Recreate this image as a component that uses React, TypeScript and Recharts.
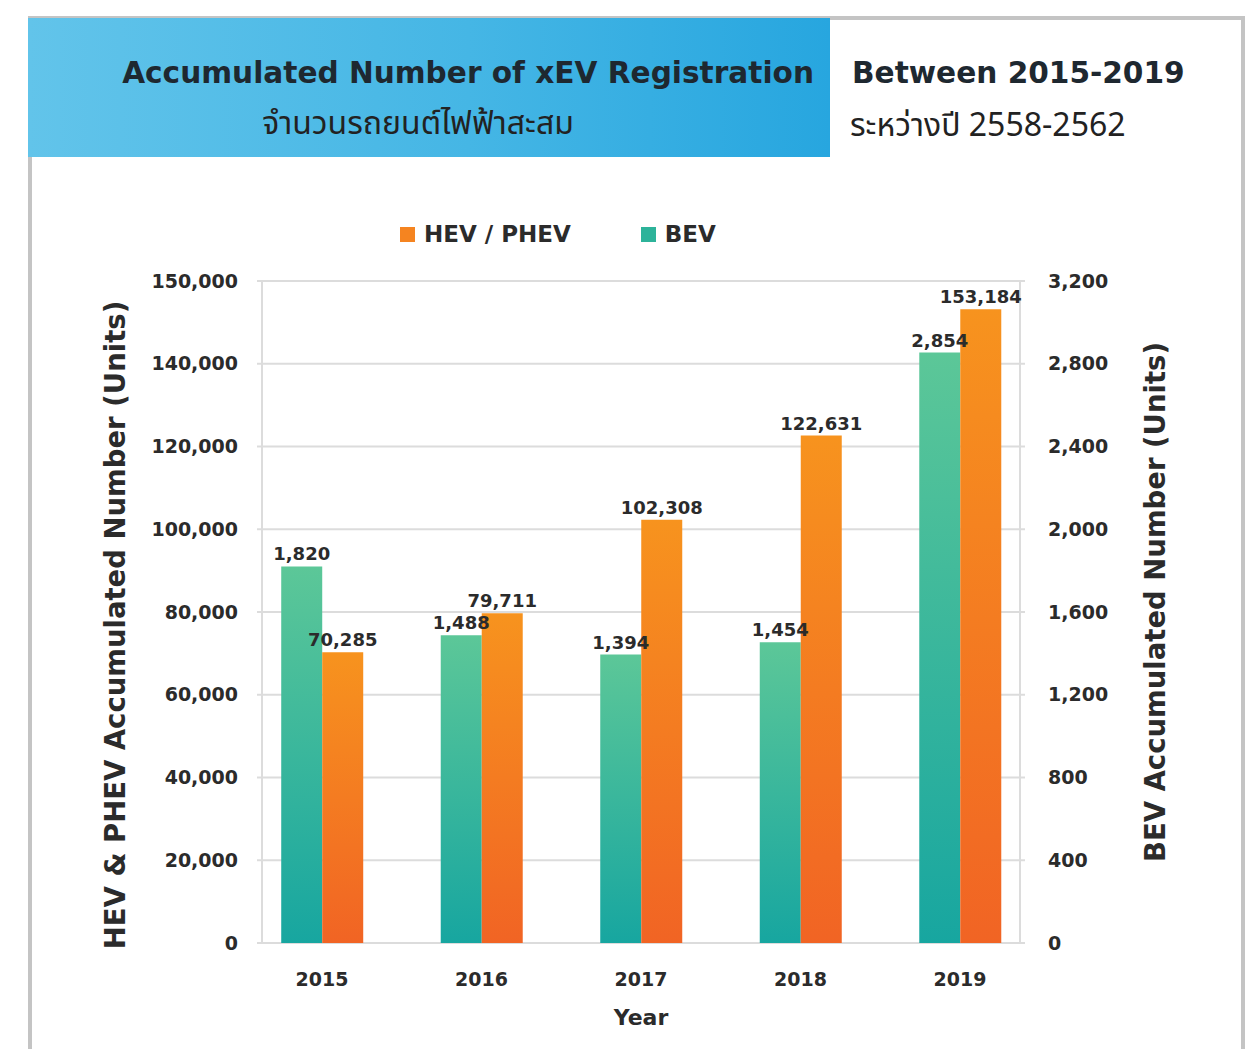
import React from "react";
import {
  BarChart,
  Bar,
  XAxis,
  YAxis,
  CartesianGrid,
  LabelList,
  Label,
} from "recharts";

const years = [2015, 2016, 2017, 2018, 2019];
const hevPhev = [70285, 79711, 102308, 122631, 153184];
const bev = [1820, 1488, 1394, 1454, 2854];

const leftTicks = [0, 20000, 40000, 60000, 80000, 100000, 120000, 140000, 160000];
const leftTickLabels = [
  "0",
  "20,000",
  "40,000",
  "60,000",
  "80,000",
  "100,000",
  "120,000",
  "140,000",
  "150,000",
];
const rightTicks = [0, 400, 800, 1200, 1600, 2000, 2400, 2800, 3200];

const legendNames = ["HEV / PHEV", "BEV"];

const data = years.map((year, i) => ({ year, hev: hevPhev[i], bev: bev[i] }));

const FONT = "'DejaVu Sans', 'Noto Sans', sans-serif";
const THAI_FONT = "'Noto Sans Thai', 'Noto Sans', 'DejaVu Sans', sans-serif";
const INK = "#2b2b2b";
const GRID = "#dcdcdc";
const ORANGE = "#f58420";
const TEAL = "#2db39a";

const tickStyle = { fontSize: 19, fontWeight: 700, fill: INK, fontFamily: FONT };
const fmt = (v: number) => v.toLocaleString("en-US");

function LegendBox() {
  const colors = [ORANGE, TEAL];
  return (
    <div
      style={{
        position: "absolute",
        left: 400,
        top: 221,
        display: "flex",
        fontFamily: FONT,
        fontWeight: 700,
        fontSize: 23,
        color: INK,
        whiteSpace: "nowrap",
      }}
    >
      {legendNames.map((name, i) => (
        <div key={name} style={{ display: "flex", alignItems: "center", marginRight: 70 }}>
          <span
            style={{
              width: 15,
              height: 15,
              background: colors[i],
              display: "inline-block",
              marginRight: 9,
            }}
          />
          {name}
        </div>
      ))}
    </div>
  );
}

function AxisTitle({ viewBox, text, dx, dy }: any) {
  const cx = viewBox.x + viewBox.width / 2 + dx;
  const cy = viewBox.y + viewBox.height / 2 + dy;
  return (
    <text
      x={cx}
      y={cy}
      transform={`rotate(-90 ${cx} ${cy})`}
      textAnchor="middle"
      dominantBaseline="central"
      fontFamily={FONT}
      fontWeight={700}
      fontSize={27.5}
      fill={INK}
    >
      {text}
    </text>
  );
}

export default function App() {
  return (
    <div
      style={{
        position: "absolute",
        left: 0,
        top: 0,
        width: 1251,
        height: 1049,
        overflow: "hidden",
        background: "#fff",
      }}
    >
      <div
        style={{
          position: "absolute",
          left: 28,
          top: 16,
          width: 1217,
          height: 1100,
          border: "4px solid #c4c4c4",
          boxSizing: "border-box",
        }}
      />
      <div
        style={{
          position: "absolute",
          left: 28,
          top: 18,
          width: 802,
          height: 139,
          background: "linear-gradient(90deg, #62c4ea 0%, #45b6e5 55%, #27a6df 100%)",
        }}
      />
      <div
        style={{
          position: "absolute",
          right: 1251 - 814,
          top: 56,
          fontFamily: FONT,
          fontWeight: 700,
          fontSize: 29.6,
          color: "#1e2830",
          whiteSpace: "nowrap",
        }}
      >
        Accumulated Number of xEV Registration
      </div>
      <div
        style={{
          position: "absolute",
          left: 28,
          width: 780,
          top: 100,
          textAlign: "center",
          fontFamily: THAI_FONT,
          fontSize: 32,
          color: "#222",
          whiteSpace: "nowrap",
        }}
      >
        จำนวนรถยนต์ไฟฟ้าสะสม
      </div>
      <div
        style={{
          position: "absolute",
          left: 852,
          top: 56,
          fontFamily: FONT,
          fontWeight: 700,
          fontSize: 29.6,
          color: "#1e2830",
          whiteSpace: "nowrap",
        }}
      >
        Between 2015-2019
      </div>
      <div
        style={{
          position: "absolute",
          left: 850,
          top: 102,
          fontFamily: THAI_FONT,
          fontSize: 32,
          color: "#222",
          whiteSpace: "nowrap",
        }}
      >
        ระหว่างปี 2558-2562
      </div>

      <LegendBox />

      <div style={{ position: "absolute", left: 0, top: 0 }}>
        <BarChart
          width={1251}
          height={1049}
          data={data}
          margin={{ top: 281, right: 151, bottom: 46, left: 182 }}
          barGap={0}
        >
          <defs>
            <linearGradient id="tealGrad" x1="0" y1="0" x2="0" y2="1">
              <stop offset="0%" stopColor="#5cc798" />
              <stop offset="100%" stopColor="#17a6a0" />
            </linearGradient>
            <linearGradient id="orangeGrad" x1="0" y1="0" x2="0" y2="1">
              <stop offset="0%" stopColor="#f7931e" />
              <stop offset="100%" stopColor="#f16424" />
            </linearGradient>
          </defs>
          <CartesianGrid
            yAxisId="left"
            vertical={false}
            stroke={GRID}
            strokeWidth={2}
          />
          <XAxis
            dataKey="year"
            type="number"
            domain={[2014.624, 2019.376]}
            ticks={years}
            interval={0}
            axisLine={false}
            tickLine={false}
            tickMargin={24}
            height={60}
            tick={tickStyle}
            tickFormatter={(v: number) => String(v)}
          >
            <Label
              value="Year"
              position="bottom"
              offset={6}
              style={{ fontSize: 22, fontWeight: 700, fill: INK, fontFamily: FONT }}
            />
          </XAxis>
          <YAxis
            yAxisId="left"
            orientation="left"
            width={80}
            domain={[0, 160000]}
            ticks={leftTicks}
            interval={0}
            tickSize={5}
            tickMargin={19}
            tick={tickStyle}
            tickLine={{ stroke: GRID, strokeWidth: 2 }}
            axisLine={{ stroke: GRID, strokeWidth: 2 }}
            tickFormatter={(_v: number, i: number) => leftTickLabels[i]}
          >
            <Label
              content={(p: any) => (
                <AxisTitle
                  viewBox={p.viewBox}
                  text="HEV & PHEV Accumulated Number (Units)"
                  dx={-107}
                  dy={13}
                />
              )}
            />
          </YAxis>
          <YAxis
            yAxisId="right"
            orientation="right"
            width={80}
            domain={[0, 3200]}
            ticks={rightTicks}
            interval={0}
            tickSize={5}
            tickMargin={23}
            tick={tickStyle}
            tickLine={{ stroke: GRID, strokeWidth: 2 }}
            axisLine={{ stroke: GRID, strokeWidth: 2 }}
            tickFormatter={fmt}
          >
            <Label
              content={(p: any) => (
                <AxisTitle
                  viewBox={p.viewBox}
                  text="BEV Accumulated Number (Units)"
                  dx={95}
                  dy={-10}
                />
              )}
            />
          </YAxis>
          <Bar
            dataKey="bev"
            name="BEV"
            yAxisId="right"
            fill="url(#tealGrad)"
            barSize={41}
            isAnimationActive={false}
          >
            <LabelList
              dataKey="bev"
              position="top"
              offset={6}
              formatter={fmt}
              style={{ fontSize: 18, fontWeight: 700, fill: INK, fontFamily: FONT }}
            />
          </Bar>
          <Bar
            dataKey="hev"
            name="HEV / PHEV"
            yAxisId="left"
            fill="url(#orangeGrad)"
            barSize={41}
            isAnimationActive={false}
          >
            <LabelList
              dataKey="hev"
              position="top"
              offset={6}
              formatter={fmt}
              style={{ fontSize: 18, fontWeight: 700, fill: INK, fontFamily: FONT }}
            />
          </Bar>
        </BarChart>
      </div>
    </div>
  );
}
